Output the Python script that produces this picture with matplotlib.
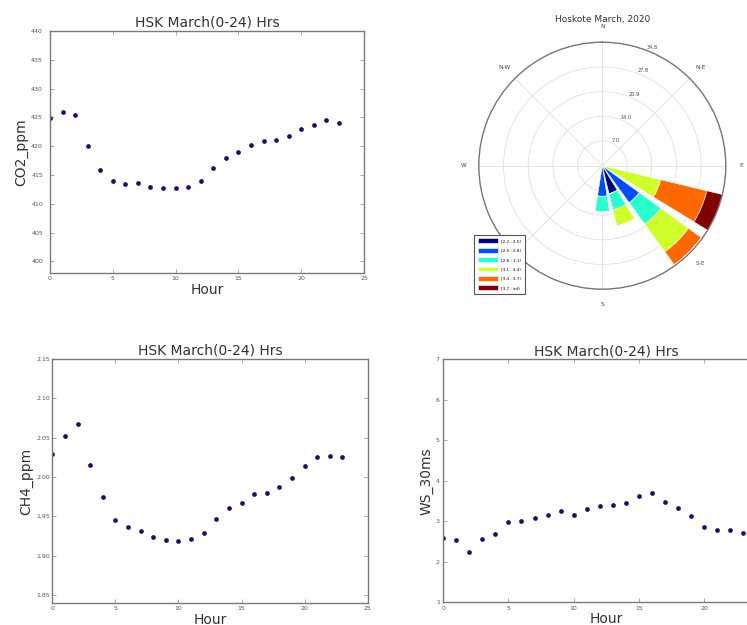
import numpy as np
import matplotlib
matplotlib.use('Agg')
import matplotlib.pyplot as plt

plt.rcParams['font.family'] = ['DejaVu Sans']

# ---------------- data ----------------
hours = list(range(24))
co2_ppm = [424.9, 426.0, 425.4, 420.0, 415.8, 413.9, 413.5, 413.7, 412.9, 412.7,
           412.7, 413.0, 413.9, 416.2, 418.0, 419.0, 420.2, 420.9, 421.0, 421.8,
           423.0, 423.7, 424.5, 424.1]
ch4_ppm = [2.029, 2.052, 2.067, 2.015, 1.975, 1.946, 1.936, 1.932, 1.924, 1.920,
           1.919, 1.921, 1.929, 1.947, 1.961, 1.967, 1.978, 1.980, 1.987, 1.999,
           2.014, 2.026, 2.027, 2.026]
ws_30ms = [2.60, 2.54, 2.25, 2.56, 2.69, 2.98, 3.01, 3.09, 3.16, 3.25,
           3.15, 3.31, 3.38, 3.41, 3.44, 3.62, 3.69, 3.48, 3.33, 3.12,
           2.85, 2.78, 2.78, 2.72]

panel_title = 'HSK March(0-24) Hrs'
x_label = 'Hour'

# wind rose (frequency %, stacked by speed bin) for directions ESE, SE, SSE, S
rose_title = 'Hoskote March, 2020'
rose_dirs_deg = [112.5, 135.0, 157.5, 180.0]
rose_bin_labels = ['[2.2 : 2.5)', '[2.5 : 2.8)', '[2.8 : 3.1)',
                   '[3.1 : 3.4)', '[3.4 : 3.7)', '[3.7 : inf)']
rose_bin0 = [0.0, 0.0, 8.1, 0.0]
rose_bin1 = [0.0, 12.9, 0.0, 8.6]
rose_bin2 = [0.0, 7.5, 4.7, 4.5]
rose_bin3 = [16.9, 9.6, 4.7, 0.0]
rose_bin4 = [13.4, 4.5, 0.0, 0.0]
rose_bin5 = [4.5, 0.0, 0.0, 0.0]
rose_rmax = 34.8
rose_rtick_labels = ['7.0', '14.0', '20.9', '27.8', '34.8']
# the S-W label sits hidden behind the legend in the original
compass_labels = ['N', 'N-E', 'E', 'S-E', 'S', '', 'W', 'N-W']

# ---------------- figure ----------------
W, H = 747, 625
fig = plt.figure(figsize=(W / 100, H / 100), dpi=100)
dot_color = '#12126e'


def scatter_panel(rect, y, ylabel, ylim, yticks, yfmt, ypad):
    ax = fig.add_axes(rect)
    ax.plot(hours, y, 'o', color=dot_color, markersize=3.4, markeredgewidth=0)
    ax.set_xlim(0, 25)
    ax.set_ylim(*ylim)
    ax.set_xticks(range(0, 26, 5))
    ax.set_yticks(yticks)
    ax.set_yticklabels([yfmt % v for v in yticks])
    ax.set_title(panel_title, fontsize=10, pad=3, color='#333333')
    ax.set_xlabel(x_label, fontsize=10, labelpad=1, color='#333333')
    ax.set_ylabel(ylabel, fontsize=10, labelpad=2, color='#333333')
    for s in ax.spines.values():
        s.set_color('#7a7a7a')
        s.set_linewidth(1.0)
    ax.tick_params(direction='in', length=3, width=0.6, color='#999999',
                   labelsize=4.5, labelcolor='#555555', top=True, right=True)
    ax.tick_params(axis='x', pad=2.5)
    ax.tick_params(axis='y', pad=ypad)
    return ax


scatter_panel([50 / W, 1 - 273 / H, 314 / W, 242 / H], co2_ppm, 'CO2_ppm',
              (398, 440), list(range(400, 441, 5)), '%d', 5)
scatter_panel([52.3 / W, 1 - 603 / H, 315.4 / W, 244 / H], ch4_ppm, 'CH4_ppm',
              (1.84, 2.15), list(np.round(np.arange(1.85, 2.151, 0.05), 2)), '%.2f', 1.5)
scatter_panel([443.3 / W, 1 - 602.3 / H, 325.8 / W, 243 / H], ws_30ms, 'WS_30ms',
              (1, 7), list(range(1, 8)), '%d', 2.5)

# ---------------- wind rose ----------------
cx, cy, rad = 602.3, 165.7, 123.5
pax = fig.add_axes([(cx - rad) / W, 1 - (cy + rad) / H, 2 * rad / W, 2 * rad / H],
                   projection='polar')
pax.set_theta_zero_location('N')
pax.set_theta_direction(-1)
pax.set_axisbelow(True)

colors = plt.cm.jet(np.linspace(0, 1, 6))
theta = np.deg2rad(rose_dirs_deg)
width = np.deg2rad(22.5 * 0.8)
bottom = np.zeros(len(theta))
for vals, lab, c in zip([rose_bin0, rose_bin1, rose_bin2, rose_bin3, rose_bin4, rose_bin5],
                        rose_bin_labels, colors):
    vals = np.array(vals)
    pax.bar(theta, vals, width=width, bottom=bottom, color=c, edgecolor='white',
            linewidth=0.4, label=lab, align='center')
    bottom = bottom + vals

pax.set_ylim(0, rose_rmax)
pax.set_yticks(np.linspace(0, rose_rmax, 6)[1:])
pax.set_yticklabels(rose_rtick_labels, fontsize=3.6, color='#444444',
                    va='bottom', ha='left')
pax.set_rlabel_position(21)
pax.set_xticks(np.deg2rad(np.arange(0, 360, 45)))
pax.set_xticklabels(compass_labels, fontsize=4.2, color='#444444')
pax.tick_params(axis='x', pad=0.5)
pax.grid(True, color='#e0e0e0', linewidth=0.6, linestyle='-')
pax.spines['polar'].set_color('#777777')
pax.spines['polar'].set_linewidth(1.0)

pax.text(0.5, 1.082, rose_title, transform=pax.transAxes, ha='center',
         va='baseline', fontsize=6.5, color='#333333')

leg = pax.legend(loc='lower left', bbox_to_anchor=(474 / W, 1 - 294 / H),
                 bbox_transform=fig.transFigure, fontsize=3, handlelength=4.8,
                 handleheight=1.4, labelspacing=1.1, borderpad=0.9,
                 handletextpad=0.8, borderaxespad=0, fancybox=False,
                 framealpha=1, edgecolor='#555555')
leg.get_frame().set_linewidth(0.8)

fig.savefig('out.png', dpi=100)
